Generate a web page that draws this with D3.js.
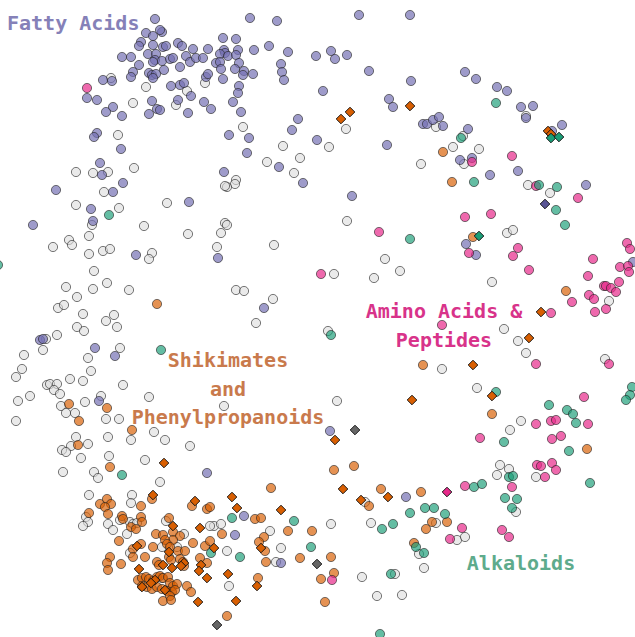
<!DOCTYPE html>
<html>
<head>
<meta charset="utf-8">
<script src="https://cdn.jsdelivr.net/npm/d3@7"></script>
<style>
  html, body { margin: 0; padding: 0; background: #fff; }
  svg { display: block; }
</style>
</head>
<body>
<svg id="chart" width="635" height="637"></svg>
<script>
// Compound embedding: each entry is [dim1, dim2] in embedding units.
const unclassified = [
  [111,78],[146,87],[187,91],[205,83],[133,103],[176,105],[118,135],[76,172],[93,173],[108,172],[134,168],[104,192],[76,205],[119,208],[167,203],
  [346,129],[243,127],[283,146],[329,147],[267,162],[300,158],[294,173],[421,164],[236,180],[235,184],[227,187],[225,186],
  [526,116],[436,127],[463,136],[453,147],[479,149],[464,164],[528,185],[550,193],
  [92,225],[144,226],[188,234],[69,240],[72,245],[53,247],[89,236],[89,254],[103,251],[110,249],[152,253],[149,259],[94,271],[66,287],[77,297],[93,289],[107,283],[129,290],[58,308],[64,305],[83,314],[77,327],[84,331],[106,321],[114,315],[117,327],[57,335],[46,339],[43,350],[120,348],[24,355],[88,358],[22,369],[16,377],[91,371],[70,379],[83,381],[47,385],[50,384],[57,384],[54,390],[60,394],[123,385],[30,396],[18,401],[149,397],[101,396],[85,402],[61,406],[66,413],[75,413],[16,421],[106,419],[119,419],
  [225,223],[227,225],[221,233],[217,247],[274,245],[347,221],[385,259],[400,271],[374,278],[334,274],[236,290],[244,291],[273,299],[256,323],[328,331],[224,406],[337,401],
  [507,233],[513,230],[492,282],[609,301],[504,329],[518,341],[526,353],[605,359],[442,369],[477,388],[521,421],
  [510,430],[500,465],[509,469],[497,475],[536,477],[516,512],[436,523],[457,540],[465,537],[424,568],
  [365,502],[214,526],[221,524],[270,531],[331,524],[371,523],[227,551],[281,548],[276,562],[362,577],[395,574],[419,554],[377,596],[402,595],[229,586],
  [154,432],[165,440],[76,437],[88,444],[71,446],[62,450],[66,452],[108,437],[131,440],[190,446],[81,458],[109,456],[145,460],[63,472],[94,472],[98,478],[160,482],[89,495],[132,495],[131,503],[86,517],[88,522],[83,526],[120,520],[108,524],[113,530],[130,522],[133,524],[137,523],[166,521],[127,534],[184,534],[210,526],[162,547],[177,547],[130,553],[162,578]
];

const fattyAcids = [
  [155,19],[162,32],[160,30],[146,33],[153,36],[141,42],[139,46],[153,45],[163,47],[166,46],[178,43],[182,46],[193,49],[208,49],[122,57],[131,57],[148,54],[156,54],[155,60],[162,61],[170,59],[173,58],[186,56],[190,62],[196,58],[203,58],[139,65],[153,62],[180,67],[164,70],[133,72],[131,77],[149,73],[152,75],[156,74],[153,78],[103,80],[112,81],[171,86],[180,85],[184,83],[191,96],[206,77],[208,74],[87,98],[97,100],[152,101],[157,109],[160,110],[149,114],[178,100],[188,113],[204,102],[211,109],[113,107],[106,112],[122,116],[97,133],[94,137],[121,149],[100,163],[102,175],[123,183],[56,190],[113,192],[91,209],[189,202],
  [250,18],[277,21],[359,15],[410,15],[223,38],[236,39],[224,50],[225,53],[220,54],[228,56],[216,63],[220,62],[238,50],[236,55],[239,63],[221,69],[235,69],[244,71],[243,75],[253,74],[223,79],[254,50],[269,46],[288,52],[281,64],[282,72],[284,80],[316,56],[331,51],[335,59],[347,55],[369,71],[411,81],[239,86],[238,93],[233,102],[241,112],[323,91],[389,99],[393,107],[423,124],[298,119],[292,130],[229,135],[249,138],[317,140],[387,145],[247,153],[279,167],[224,172],[303,183],[352,196],
  [465,72],[476,79],[497,87],[507,91],[521,107],[533,106],[526,118],[427,124],[433,120],[439,117],[443,126],[468,129],[552,131],[562,125],[460,160],[472,158],[490,175],[518,171],[586,185],
  [33,225],[93,221],[136,255],[40,340],[43,339],[95,348],[115,356],[99,401],
  [218,258],[264,308],[466,244],[476,255],[633,262],
  [330,431],[406,497],[244,516],[235,535],[281,563],[207,473]
];

const shikimates = [
  [443,152],[452,182],[157,304],[69,404],[107,408],[79,421],[423,365],[566,291],[473,237],[492,414],
  [587,449],[432,522],[447,522],[426,529],
  [334,470],[354,466],[271,488],[381,489],[421,492],[369,506],[255,519],[261,518],[222,534],[288,531],[312,531],[264,537],[259,542],[265,551],[300,558],[266,562],[331,557],[334,573],[321,579],[414,543],[258,578],[325,602],[227,616],
  [132,430],[78,445],[110,467],[152,499],[192,506],[207,509],[210,507],[100,504],[107,499],[111,504],[105,507],[108,514],[141,506],[89,513],[122,516],[123,519],[141,517],[142,522],[131,527],[136,529],[169,518],[156,534],[163,535],[173,532],[180,536],[119,541],[173,540],[165,540],[141,544],[133,549],[153,547],[167,544],[170,547],[193,543],[205,546],[210,541],[178,551],[185,551],[133,557],[145,557],[110,557],[107,563],[108,570],[121,564],[169,557],[171,560],[180,559],[183,562],[184,566],[200,558],[207,563],[157,562],[159,565],
  [138,580],[142,578],[146,577],[149,579],[153,581],[157,577],[160,576],[163,578],[168,577],[170,583],[173,586],[177,584],[142,586],[147,587],[152,589],[157,587],[162,589],[167,591],[172,592],[175,590],[170,596],[163,601],[171,600],[187,586],[191,592]
];

const aminoAcids = [
  [87,88],[512,156],[472,162],[536,186],[578,198],[379,232],[321,274],
  [465,217],[491,214],[469,253],[518,248],[513,256],[529,270],[593,259],[627,243],[630,249],[620,267],[628,266],[629,272],[588,276],[619,282],[604,286],[606,286],[611,288],[616,292],[589,295],[594,299],[572,302],[606,309],[595,312],[551,313],[442,325],[536,364],[609,364],[584,397],[536,424],[551,421],[556,420],[588,424],
  [480,438],[552,439],[561,436],[537,465],[541,466],[552,463],[556,470],[545,477],[512,487],[465,486],[462,528],[502,530],[509,537],[450,539],[332,580]
];

const alkaloids = [
  [-2,265],[109,215],[496,103],[461,138],[474,182],[539,185],[557,187],[556,210],[161,350],[410,239],[331,335],
  [565,225],[496,392],[549,405],[567,410],[573,414],[632,387],[630,395],[626,400],[576,423],
  [504,442],[569,451],[509,477],[513,476],[590,483],[474,487],[482,484],[505,498],[517,499],[512,508],[425,508],[434,508],[445,514],[424,553],
  [232,518],[294,521],[382,529],[393,524],[410,513],[240,557],[311,547],[391,574],[416,547],[380,634],[122,475],[211,553]
];

// Reference compounds (drawn as diamonds)
const shikimateRefs = [
  [350,112],[341,119],[410,106],[548,131],[551,134],[412,400],[541,312],[529,338],[473,365],[492,396],[335,440],[343,489],[388,497],[361,500],[232,497],[237,508],[281,510],[261,548],[214,548],[228,574],[257,586],[236,601],[164,463],[153,495],[195,501],[173,526],[200,528],[137,546],[169,552],[184,563],[181,566],[201,565],[199,571],[139,569],[163,565],[172,568],[207,578],[142,587],[155,580],[151,583],[165,590],[198,602]
];
const otherRefs = [[355,430],[317,564],[217,625]];
const alkaloidRefs = [[551,138],[559,137],[479,236]];
const fattyRefs = [[545,204]];
const aminoRefs = [[447,492]];

const classLabels = [
  { lines: ["Fatty Acids"], at: [7, 30], anchor: "start", color: "#8581b8" },
  { lines: ["Shikimates", "and", "Phenylpropanoids"], at: [228, 367], anchor: "middle", color: "#c97a4c" },
  { lines: ["Amino Acids &", "Peptides"], at: [444, 318], anchor: "middle", color: "#d8338a" },
  { lines: ["Alkaloids"], at: [521, 570], anchor: "middle", color: "#5eab8c" }
];

const width = 635, height = 637;
const svg = d3.select("#chart");

const x = d3.scaleLinear().domain([0, 635]).range([0, width]);
const y = d3.scaleLinear().domain([0, 637]).range([0, height]);

const circleGroups = [
  { data: unclassified, fill: "#dcdcdc", opacity: 0.6 },
  { data: fattyAcids, fill: "#7570b3", opacity: 0.7 },
  { data: shikimates, fill: "#d95f02", opacity: 0.68 },
  { data: aminoAcids, fill: "#e7298a", opacity: 0.7 },
  { data: alkaloids, fill: "#1b9e77", opacity: 0.68 }
];

circleGroups.forEach(g => {
  svg.append("g")
    .selectAll("circle")
    .data(g.data)
    .join("circle")
    .attr("cx", d => x(d[0]))
    .attr("cy", d => y(d[1]))
    .attr("r", 4.6)
    .attr("fill", g.fill)
    .attr("fill-opacity", g.opacity)
    .attr("stroke", "#222")
    .attr("stroke-opacity", 0.6)
    .attr("stroke-width", 1);
});

const diamond = d3.symbol().type(d3.symbolSquare).size(46);
const diamondGroups = [
  { data: shikimateRefs, fill: "#d95f02" },
  { data: otherRefs, fill: "#666666" },
  { data: alkaloidRefs, fill: "#1b9e77" },
  { data: fattyRefs, fill: "#5a5596" },
  { data: aminoRefs, fill: "#e7298a" }
];

diamondGroups.forEach(g => {
  svg.append("g")
    .selectAll("path")
    .data(g.data)
    .join("path")
    .attr("d", diamond)
    .attr("transform", d => `translate(${x(d[0])},${y(d[1])}) rotate(45)`)
    .attr("fill", g.fill)
    .attr("stroke", "#111")
    .attr("stroke-width", 0.9);
});

const labelLayer = svg.append("g")
  .attr("font-family", "'DejaVu Sans Mono', monospace")
  .attr("font-weight", "bold")
  .attr("font-size", 20);

classLabels.forEach(l => {
  const t = labelLayer.append("text")
    .attr("x", l.at[0])
    .attr("y", l.at[1])
    .attr("text-anchor", l.anchor)
    .attr("fill", l.color);
  l.lines.forEach((line, i) => {
    t.append("tspan")
      .attr("x", l.at[0])
      .attr("dy", i === 0 ? 0 : 28.5)
      .text(line);
  });
});
</script>
</body>
</html>
